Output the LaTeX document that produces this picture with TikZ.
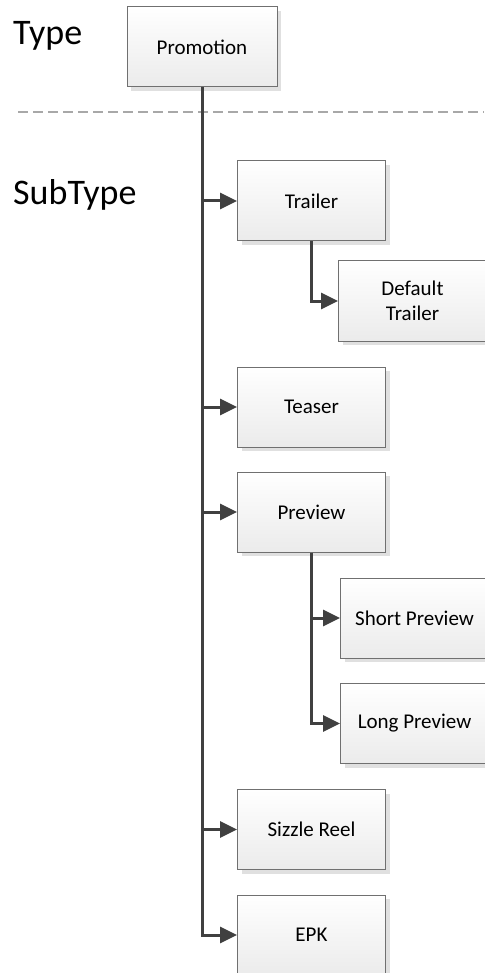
\documentclass[tikz,border=0pt]{standalone}
\usepackage{fontspec}
\setmainfont{Carlito}
\usetikzlibrary{arrows.meta,shadows}
\definecolor{boxline}{HTML}{707070}
\definecolor{boxbot}{HTML}{EBEBEB}
\definecolor{shadowc}{HTML}{E0E0E0}
\definecolor{connc}{HTML}{404040}
\definecolor{dashc}{HTML}{A8A8A8}
\tikzset{
  box/.style={rectangle, draw=boxline, line width=1pt, top color=white, bottom color=boxbot,
    minimum width=148pt, minimum height=80pt, inner sep=2pt, align=center,
    font=\fontsize{21}{25}\selectfont,
    drop shadow={shadow xshift=4pt, shadow yshift=-4pt, fill=shadowc, opacity=1}},
  conn/.style={draw=connc, line width=3pt, -{Triangle[length=17pt,width=16pt]}},
  lbl/.style={anchor=base west, inner sep=0pt, font=\fontsize{36}{40}\selectfont},
}
\begin{document}
\begin{tikzpicture}[x=1pt,y=-1pt]
\useasboundingbox (0,0) rectangle (484,973);
\node[lbl] (type) at (13,45) {Type};
\node[lbl] (subtype) at (13,205) {SubType};
\coordinate (dl) at (18,112);
\coordinate (dr) at (484,112);
\draw[dashc, line width=1.5pt, dash pattern=on 10pt off 5pt] (dl) -- (dr);
\node[box, minimum width=150pt] (promo) at (202,47) {Promotion};
\node[box] (trailer) at (311.5,201) {Trailer};
\node[box] (deftrailer) at (412.5,301) {Default\\Trailer};
\node[box] (teaser) at (311.5,407) {Teaser};
\node[box] (preview) at (311.5,512) {Preview};
\node[box] (short) at (414.5,618) {Short Preview};
\node[box] (long) at (414.5,723.5) {Long Preview};
\node[box] (sizzle) at (311.5,829.5) {Sizzle Reel};
\node[box] (epk) at (311.5,935) {EPK};
\draw[conn] (promo.south) |- (trailer.west);
\draw[conn] (promo.south) |- (teaser.west);
\draw[conn] (promo.south) |- (preview.west);
\draw[conn] (promo.south) |- (sizzle.west);
\draw[conn] (promo.south) |- (epk.west);
\draw[conn] (trailer.south) |- (deftrailer.west);
\draw[conn] (preview.south) |- (short.west);
\draw[conn] (preview.south) |- (long.west);
\end{tikzpicture}
\end{document}
